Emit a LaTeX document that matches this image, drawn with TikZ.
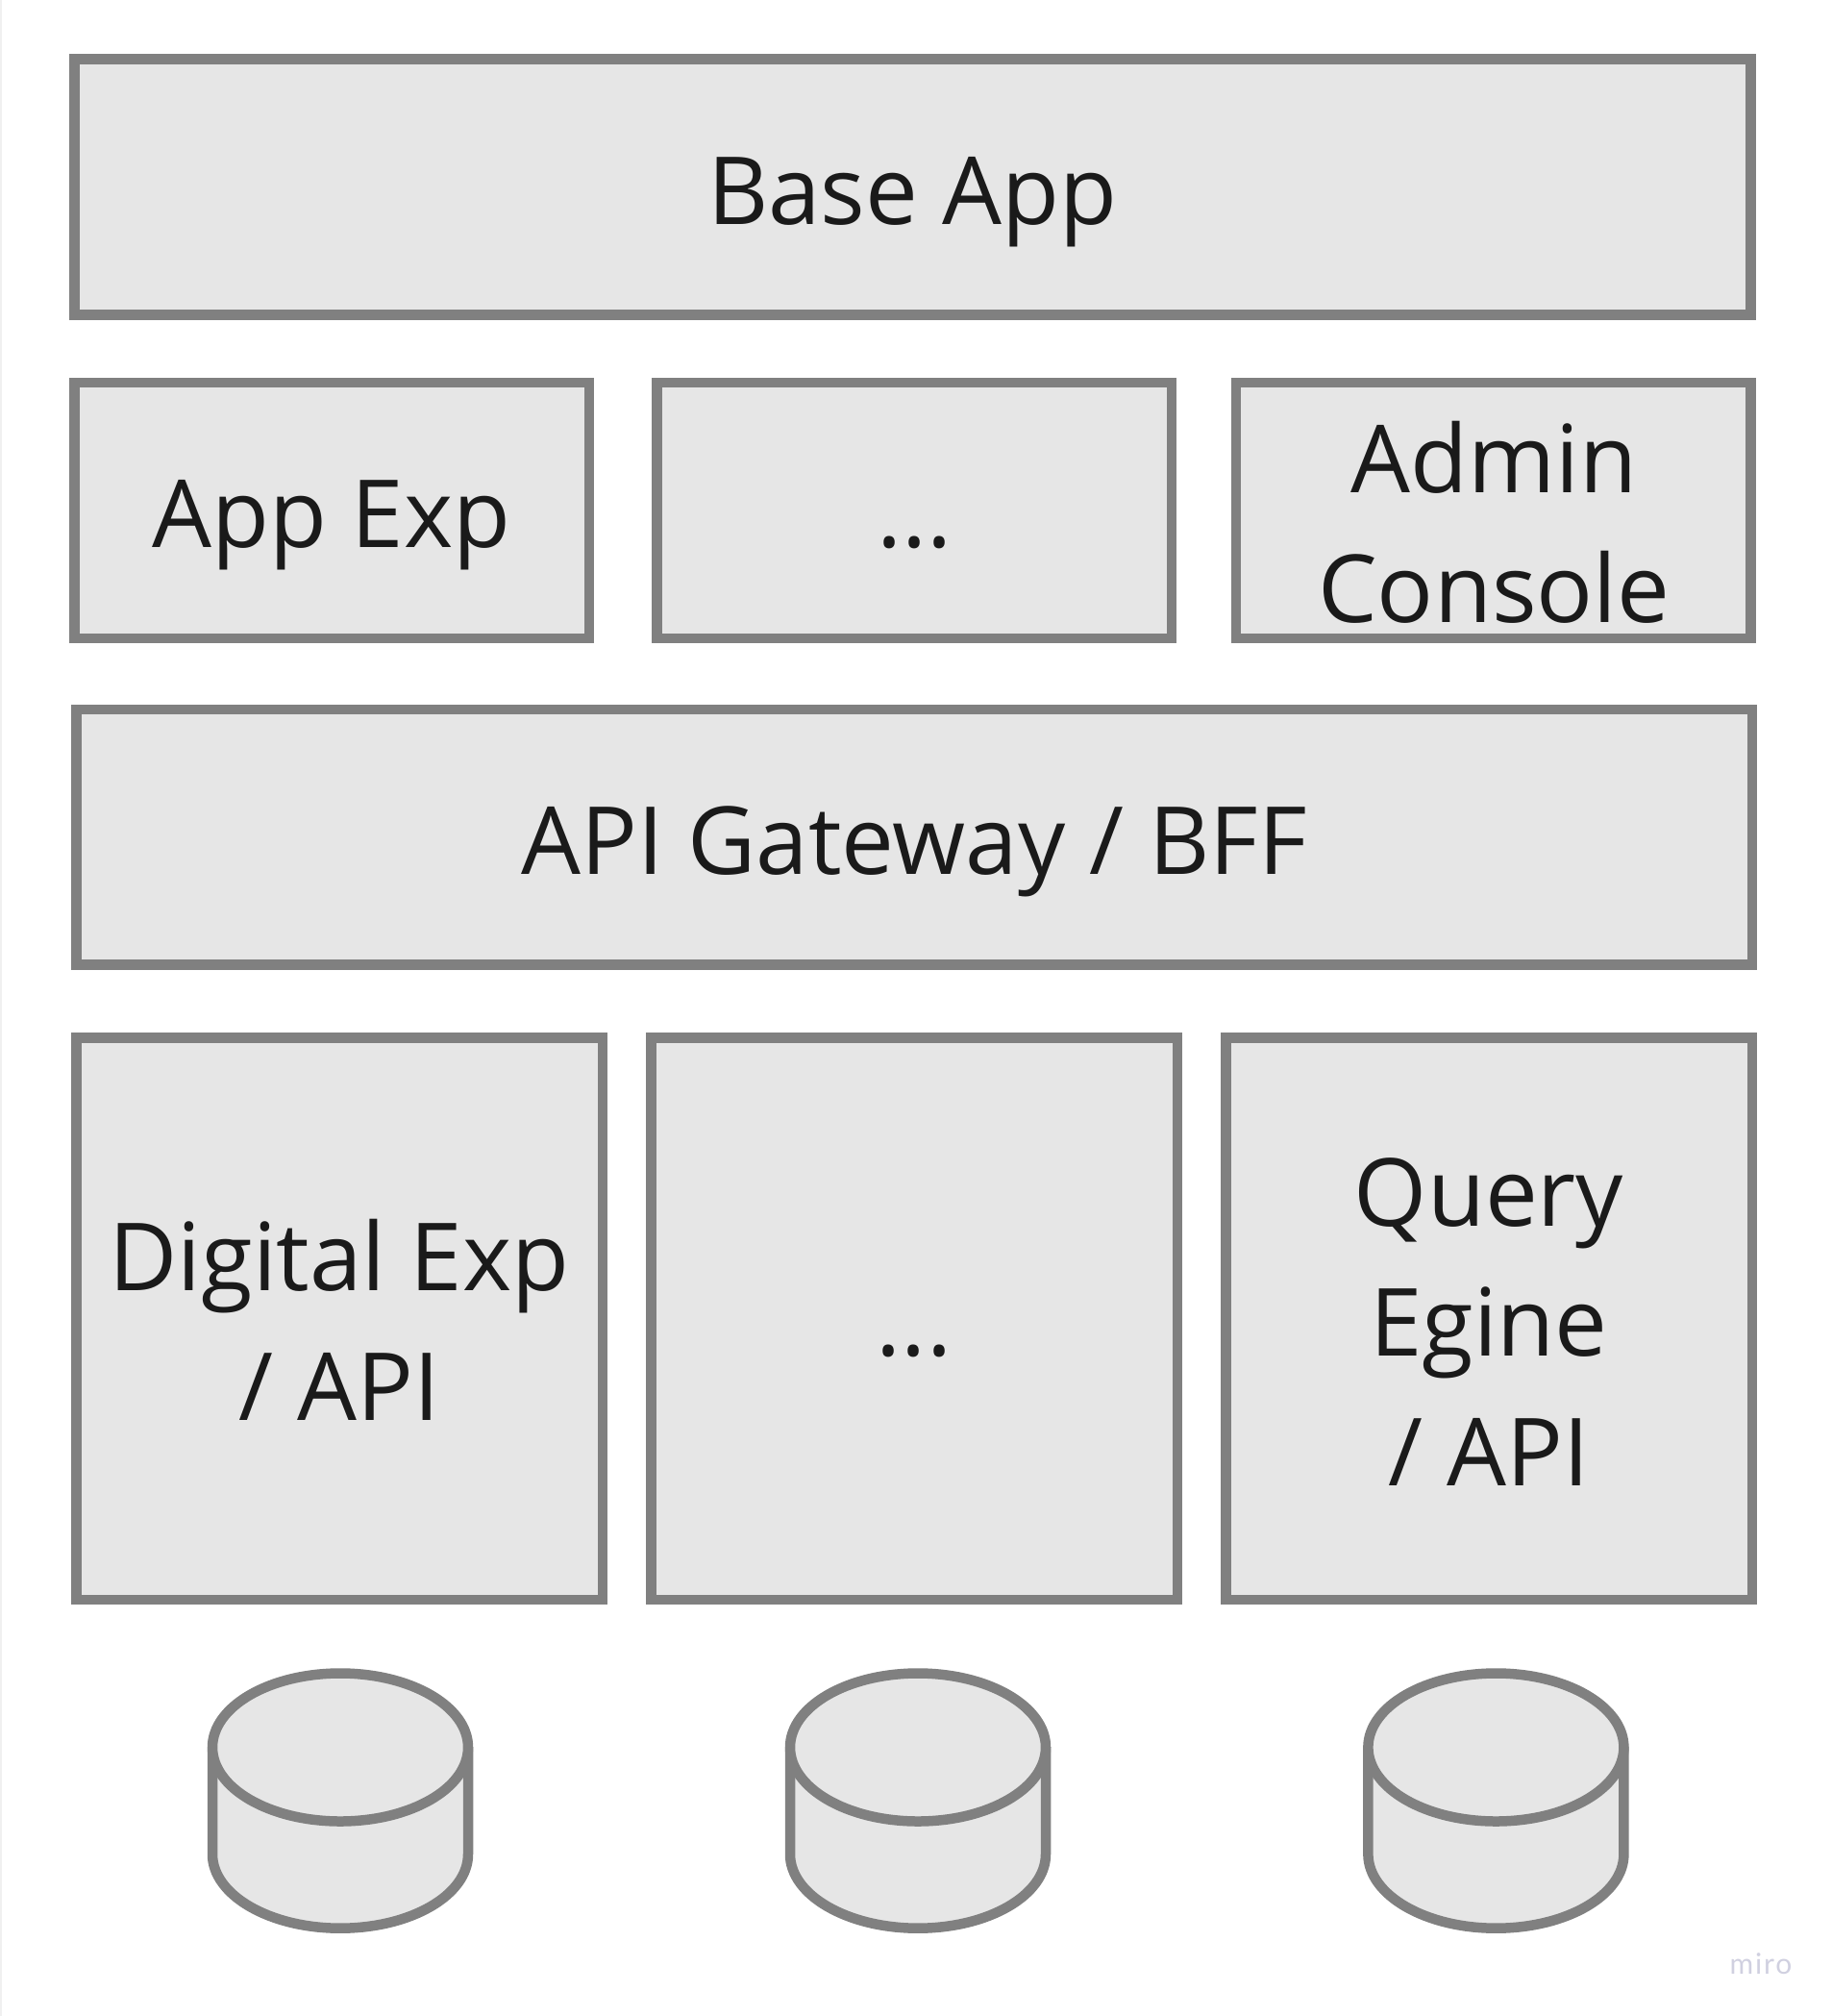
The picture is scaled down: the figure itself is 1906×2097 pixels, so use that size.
\documentclass[tikz,border=0pt]{standalone}
\usepackage{fontspec}
\setmainfont{Open Sans}
\newfontfamily\mirofont[LetterSpace=6]{Lato}
\definecolor{boxfill}{HTML}{E6E6E6}
\definecolor{boxline}{HTML}{808080}
\definecolor{boxtext}{HTML}{1A1A1A}
\definecolor{mirotext}{HTML}{D0D0E0}
\definecolor{edgestrip}{HTML}{F0F0F0}
\newcommand{\tl}{\rule[-28.8pt]{0pt}{135pt}}
\tikzset{
  x=1pt,y=-1pt,
  boxnode/.style={draw=boxline,fill=boxfill,line width=10.5pt,rectangle,inner sep=0pt,outer sep=0pt,
    miter limit=10,text=boxtext,align=center,font=\fontsize{97.8}{135}\selectfont},
  textnode/.style={inner sep=0pt,outer sep=0pt,text=boxtext,align=center,font=\fontsize{97.8}{135}\selectfont},
  dbshape/.style={draw=boxline,fill=boxfill,line width=10.5pt,line join=round},
  dbrim/.pic={
    \path[dbshape] (-133,0) -- (-133,111.2) arc[start angle=180,end angle=0,x radius=133,y radius=77] -- (133,0) -- cycle;
    \path[dbshape] (0,0) circle[x radius=133,y radius=77];
  }
}
\begin{document}
\begin{tikzpicture}
\useasboundingbox (0,0) rectangle (1906,2097);
\fill[edgestrip] (0,0) rectangle (2,2097);
\node[boxnode,minimum width=1744pt,minimum height=266pt] (base) at (949.4,194.3) {\tl Base App};
\node[boxnode,minimum width=535.5pt,minimum height=266pt] (appexp) at (345,530.8) {\tl App Exp};
\node[boxnode,minimum width=535.5pt,minimum height=266pt] (dots1) at (951.3,530.8) {\tl ...};
\node[boxnode,minimum width=535.5pt,minimum height=266pt] (admin) at (1553.7,530.8) {};
\node[textnode] (admintext) at (1554.3,540.8) {\tl Admin\\\tl Console};
\node[boxnode,minimum width=1743.5pt,minimum height=265.5pt] (gateway) at (951,870.6) {\tl API Gateway / BFF};
\node[boxnode,minimum width=547.5pt,minimum height=584.5pt] (digital) at (353,1371.5) {\tl Digital Exp\\\tl / API};
\node[boxnode,minimum width=547.5pt,minimum height=584.5pt] (dots2) at (951,1371.5) {\tl ...};
\node[boxnode,minimum width=547.5pt,minimum height=584.5pt] (query) at (1549,1371.5) {\tl Query\\\tl Egine\\\tl / API};
\pic at (354,1817.5) {dbrim};
\pic at (955,1817.5) {dbrim};
\pic at (1556.4,1817.5) {dbrim};
\node[inner sep=0pt,outer sep=0pt,text=mirotext,font=\mirofont\fontsize{30}{30}\selectfont,anchor=base] (miro) at (1832,2053) {miro};
\end{tikzpicture}
\end{document}
